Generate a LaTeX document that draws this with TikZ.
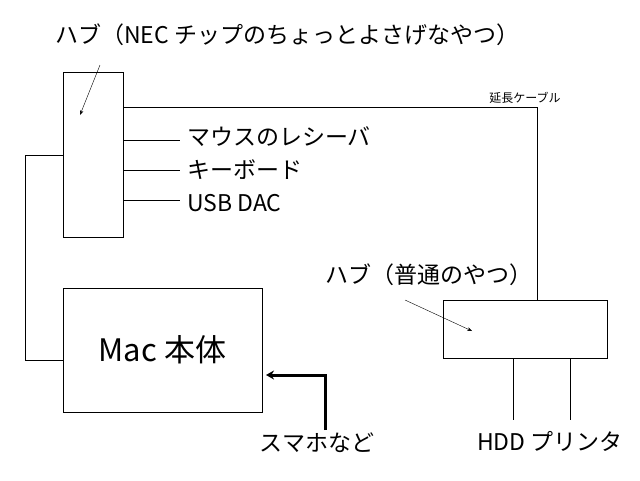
\documentclass[tikz,border=0pt]{standalone}
\usepackage{fontspec}
\setmainfont{Noto Sans CJK JP}
\usetikzlibrary{arrows.meta, positioning}
\tikzset{
    box/.style={rectangle, draw, thin},
    wire/.style={draw, thin},
    label/.style={font=\fontsize{23}{26}\selectfont, inner sep=0pt},
    pointer/.style={->, thin, >=Stealth}
}
\begin{document}
\begin{tikzpicture}[x=1pt, y=-1pt]
    \useasboundingbox (0,0) rectangle (640,480);
    % Hubs
    \node[box, minimum width=60pt, minimum height=165pt] (hubnec) at (93,154.5) {};
    \node[box, minimum width=164pt, minimum height=58pt] (hubstd) at (525,329) {};
    % Mac
    \node[box, minimum width=199pt, minimum height=124pt, font=\fontsize{31}{36}\selectfont] (mac) at (162.5,350) {Mac 本体};

    % Labels
    \node[label, anchor=west] (lnec) at (55,35) {ハブ（NEC チップのちょっとよさげなやつ）};
    \node[label, anchor=west] (lstd) at (325,275) {ハブ（普通のやつ）};
    \node[label, anchor=west] (mouse) at (187,137) {マウスのレシーバ};
    \node[label, anchor=west] (kbd) at (187,170) {キーボード};
    \node[label, anchor=west] (dac) at (187,203) {USB DAC};
    \node[label] (phone) at (317,443) {スマホなど};
    \node[label] (hdd) at (550,441) {HDD プリンタ};
    \node[font=\fontsize{12}{14}\selectfont, inner sep=0pt] (cable) at (525,98) {延長ケーブル};

    % Coordinates
    \coordinate (cm) at (180,140);
    \coordinate (ck) at (180,170);
    \coordinate (cd) at (180,200);
    \coordinate (chdd) at (513,420);
    \coordinate (cprn) at (570,420);
    \coordinate (cphone) at (325,430);

    % Connections
    \draw[wire] (hubnec.east |- cm) -- (cm);
    \draw[wire] (hubnec.east |- ck) -- (ck);
    \draw[wire] (hubnec.east |- cd) -- (cd);
    \draw[wire] (hubnec.east |- 0,107) -| (hubstd.north -| 537,0);
    \draw[wire] (hubnec.west |- 0,155) -- (25,155) |- (mac.west |- 0,360);
    \draw[wire] (hubstd.south -| chdd) -- (chdd);
    \draw[wire] (hubstd.south -| cprn) -- (cprn);
    \draw[->, >={Stealth[length=8pt,width=9pt]}, line width=3pt] (cphone) |- (266,375);

    % Pointers
    \draw[pointer] (100,65) -- (80,115);
    \draw[pointer] (405,300) -- (472,331);
\end{tikzpicture}
\end{document}
